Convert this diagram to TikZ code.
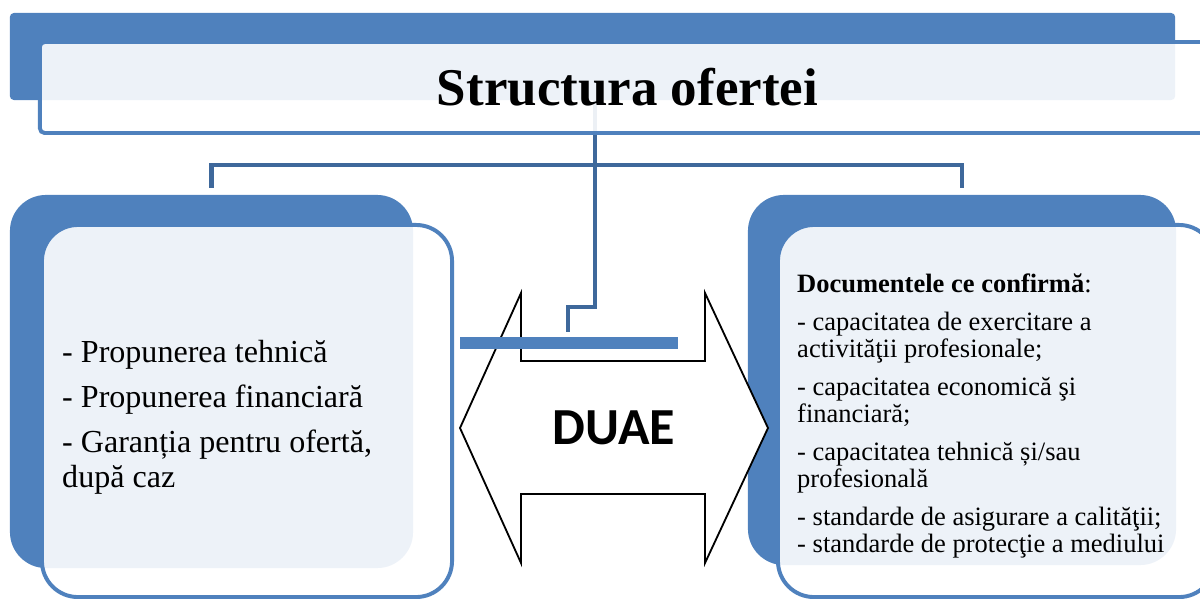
\documentclass[tikz,border=0pt]{standalone}
\usepackage{fontspec}
\setmainfont{Liberation Serif}
\newfontfamily\arrowfont{Carlito}
\usetikzlibrary{positioning}
\definecolor{accentblue}{RGB}{79,129,189}
\definecolor{linkblue}{RGB}{62,104,155}

\begin{document}
\begin{tikzpicture}[
    x=0.025cm, y=-0.025cm,
    backbox/.style={fill=accentblue, inner sep=0pt, outer sep=0pt},
    frontbox/.style={draw=accentblue, line width=2.8pt, fill=white, fill opacity=0.9, text opacity=1, inner sep=0pt, outer sep=0pt},
    link/.style={draw=linkblue, line width=3.2pt},
    listtext/.style={inner sep=0pt, align=left, anchor=west}
  ]
  \useasboundingbox (0,0) rectangle (1200,598);
  \clip (0,0) rectangle (1200,598);

  % back panels
  \node[backbox, rounded corners=0.1cm, minimum width=29.125cm, minimum height=2.175cm] (titleback) at (592.5,56.5) {};
  \node[backbox, rounded corners=0.9cm, minimum width=10.075cm, minimum height=9.325cm] (leftback) at (211.5,381.5) {};
  \node[backbox, rounded corners=0.9cm, minimum width=10.7cm, minimum height=9.25cm] (rightback) at (962,380) {};

  % connectors
  \coordinate (hub) at (595,165);
  \coordinate (duaeend) at (568,332);
  \draw[link] ([yshift=0.175cm]leftback.north) |- (hub) -| ([yshift=0.175cm]rightback.north);
  \draw[link] (titleback.south -| hub) -- (595,307) -| (duaeend);

  % front panels
  \node[frontbox, rounded corners=0.12cm, minimum width=29.375cm, minimum height=2.275cm,
        font=\fontsize{37.7}{40}\selectfont\bfseries] (titlefront) at (627.5,87.5) {Structura ofertei};
  \node[frontbox, rounded corners=0.9cm, minimum width=10.25cm, minimum height=9.3cm] (leftfront) at (247,411) {};
  \node[frontbox, rounded corners=0.9cm, minimum width=10.925cm, minimum height=9.3cm] (rightfront) at (996.5,411) {};

  % lists
  \node[listtext, font=\fontsize{22.8}{24.9}\selectfont, right=0.5cm of leftfront.west, yshift=-0.15cm] (leftlist)
    {- Propunerea tehnică\\[7pt]
     - Propunerea financiară\\[7pt]
     - Garanția pentru ofertă,\\
     după caz};
  \node[listtext, font=\fontsize{18.85}{19.2}\selectfont, right=0.475cm of rightfront.west, yshift=-0.12cm] (rightlist)
    {\textbf{Documentele ce confirmă}:\\[7.5pt]
     - capacitatea de exercitare a\\
     activităţii profesionale;\\[7.8pt]
     - capacitatea economică şi\\
     financiară;\\[7.8pt]
     - capacitatea tehnică și/sau\\
     profesională\\[7.8pt]
     - standarde de asigurare a calităţii;\\
     - standarde de protecţie a mediului};

  % DUAE double arrow
  \draw[line width=1.3pt, fill=white] (460,428) -- (521,293) -- (521,361) -- (705,361) -- (705,293)
    -- (768,428) -- (705,563) -- (705,494) -- (521,494) -- (521,563) -- cycle;
  \fill[accentblue] (460,337) rectangle (678,349);
  \node[font=\fontsize{37}{40}\selectfont\arrowfont\bfseries] (duae) at (614,428) {DUAE};
\end{tikzpicture}
\end{document}
